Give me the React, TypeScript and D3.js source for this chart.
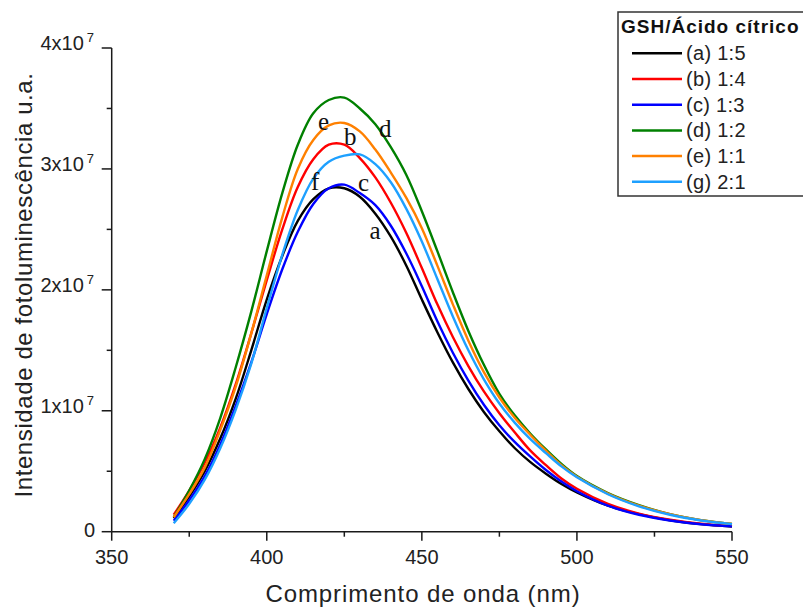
import React from "react";
import * as d3 from "d3";

// Wavelength grid (nm)
const wavelengths = [370, 375, 380, 385, 390, 395, 400, 405, 410, 415, 420, 425, 430, 435, 440, 445, 450, 455, 460, 465, 470, 475, 480, 485, 490, 495, 500, 510, 520, 530, 540, 550];

// Intensities in units of 1x10^7
const serieA = [0.11, 0.29, 0.5, 0.77, 1.1, 1.5, 1.92, 2.28, 2.57, 2.75, 2.84, 2.84, 2.77, 2.63, 2.44, 2.2, 1.92, 1.65, 1.4, 1.18, 0.99, 0.83, 0.69, 0.575, 0.48, 0.395, 0.325, 0.215, 0.145, 0.095, 0.063, 0.043];
const serieB = [0.14, 0.34, 0.57, 0.86, 1.22, 1.64, 2.08, 2.5, 2.85, 3.08, 3.2, 3.2, 3.09, 2.93, 2.72, 2.47, 2.18, 1.88, 1.61, 1.37, 1.16, 0.98, 0.82, 0.67, 0.55, 0.44, 0.355, 0.23, 0.15, 0.1, 0.066, 0.046];
const serieC = [0.09, 0.26, 0.46, 0.72, 1.04, 1.4, 1.8, 2.17, 2.48, 2.71, 2.84, 2.87, 2.8, 2.7, 2.53, 2.3, 2.03, 1.74, 1.48, 1.25, 1.05, 0.88, 0.74, 0.62, 0.51, 0.415, 0.335, 0.215, 0.14, 0.093, 0.062, 0.044];
const serieD = [0.12, 0.34, 0.6, 0.94, 1.36, 1.82, 2.32, 2.8, 3.2, 3.46, 3.57, 3.59, 3.5, 3.37, 3.18, 2.95, 2.65, 2.32, 1.98, 1.66, 1.38, 1.14, 0.96, 0.81, 0.68, 0.56, 0.46, 0.32, 0.22, 0.145, 0.096, 0.065];
const serieE = [0.12, 0.31, 0.53, 0.84, 1.2, 1.64, 2.12, 2.6, 3.0, 3.24, 3.36, 3.38, 3.31, 3.16, 2.97, 2.76, 2.51, 2.2, 1.88, 1.58, 1.32, 1.11, 0.94, 0.8, 0.67, 0.55, 0.455, 0.315, 0.215, 0.145, 0.095, 0.064];
const serieG = [0.07, 0.23, 0.43, 0.69, 1.01, 1.39, 1.85, 2.29, 2.66, 2.92, 3.06, 3.11, 3.12, 3.04, 2.89, 2.67, 2.4, 2.09, 1.78, 1.5, 1.26, 1.06, 0.9, 0.765, 0.65, 0.54, 0.45, 0.31, 0.21, 0.14, 0.093, 0.063];

const seriesValues = [serieA, serieB, serieC, serieD, serieE, serieG];
const seriesNames = ["(a) 1:5", "(b) 1:4", "(c) 1:3", "(d) 1:2", "(e) 1:1", "(g) 2:1"];
const seriesColors = ["#000000", "#ff0000", "#0000ff", "#008000", "#ff8000", "#1ea0ff"];
const legendTitle = "GSH/Ácido cítrico";

const xTicks = [350, 400, 450, 500, 550];
const xMinorTicks = [375, 425, 475, 525];
const yTicks = [0, 1, 2, 3, 4];
const yTickMantissa = ["0", "1x10", "2x10", "3x10", "4x10"];
const yMinorTicks = [0.5, 1.5, 2.5, 3.5];

// Curve letter annotations: letter, wavelength and intensity of the baseline
const curveLetters = ["e", "b", "d", "f", "c", "a"];
const letterX = [418.3, 426.9, 438.2, 415.6, 431.2, 434.9];
const letterY = [3.318, 3.199, 3.265, 2.826, 2.821, 2.421];

const sans = "'Liberation Sans', Arial, sans-serif";
const serif = "'Liberation Serif', 'Times New Roman', serif";

export default function App() {
  const x = d3.scaleLinear().domain([350, 550]).range([111.7, 732]);
  const y = d3.scaleLinear().domain([0, 4]).range([531.7, 48]);
  const line = d3
    .line<[number, number]>()
    .x((d) => x(d[0]))
    .y((d) => y(d[1]))
    .curve(d3.curveCatmullRom.alpha(0.5));

  const axisColor = "#1a1a1a";

  return (
    <svg
      width={803}
      height={608}
      style={{ position: "absolute", left: 0, top: 0, background: "#fff" }}
    >
      {/* curves */}
      {seriesValues.map((vals, i) => (
        <path
          key={i}
          d={line(wavelengths.map((w, j) => [w, vals[j]] as [number, number])) || ""}
          fill="none"
          stroke={seriesColors[i]}
          strokeWidth={2.4}
          strokeLinejoin="round"
        />
      ))}

      {/* axes */}
      <line x1={x(350)} x2={x(550)} y1={y(0)} y2={y(0)} stroke={axisColor} strokeWidth={1.5} />
      <line x1={x(350)} x2={x(350)} y1={y(0)} y2={y(4)} stroke={axisColor} strokeWidth={1.5} />
      {xTicks.map((t) => (
        <g key={"xt" + t}>
          <line x1={x(t)} x2={x(t)} y1={y(0)} y2={y(0) + 9} stroke={axisColor} strokeWidth={1.5} />
          <text x={x(t)} y={564} textAnchor="middle" fontFamily={sans} fontSize={20} fill="#222">
            {t}
          </text>
        </g>
      ))}
      {xMinorTicks.map((t) => (
        <line key={"xm" + t} x1={x(t)} x2={x(t)} y1={y(0)} y2={y(0) + 5} stroke={axisColor} strokeWidth={1.5} />
      ))}
      {yTicks.map((t, i) => (
        <g key={"yt" + t}>
          <line x1={x(350) - 10} x2={x(350)} y1={y(t)} y2={y(t)} stroke={axisColor} strokeWidth={1.5} />
          {t === 0 ? (
            <text x={95} y={y(t) + 5} textAnchor="end" fontFamily={sans} fontSize={20} fill="#222">
              {yTickMantissa[i]}
            </text>
          ) : (
            <text x={94} y={y(t) + 2} textAnchor="end" fontFamily={sans} fontSize={20} fill="#222">
              {yTickMantissa[i]}
              <tspan fontSize={13} dx={3} dy={-8}>
                7
              </tspan>
            </text>
          )}
        </g>
      ))}
      {yMinorTicks.map((t) => (
        <line key={"ym" + t} x1={x(350) - 5} x2={x(350)} y1={y(t)} y2={y(t)} stroke={axisColor} strokeWidth={1.5} />
      ))}

      {/* axis titles */}
      <text
        x={423}
        y={602}
        textAnchor="middle"
        fontFamily={sans}
        fontSize={24}
        letterSpacing={0.9}
        fill="#222"
      >
        Comprimento de onda (nm)
      </text>
      <text
        transform="translate(32,285) rotate(-90)"
        textAnchor="middle"
        fontFamily={sans}
        fontSize={24}
        letterSpacing={0.6}
        fill="#222"
      >
        Intensidade de fotoluminescência u.a.
      </text>

      {/* curve letters */}
      {curveLetters.map((c, i) => (
        <text
          key={"l" + c}
          x={x(letterX[i])}
          y={y(letterY[i])}
          textAnchor="middle"
          fontFamily={serif}
          fontSize={25}
          fill="#111"
        >
          {c}
        </text>
      ))}

      {/* legend */}
      <rect x={618} y={12} width={200} height={184} fill="#fff" stroke="#333" strokeWidth={1.5} />
      <text x={621} y={33} fontFamily={sans} fontWeight="bold" fontSize={19} letterSpacing={1} fill="#111">
        {legendTitle}
      </text>
      {seriesNames.map((n, i) => {
        const ly = 53.3 + i * 25.7;
        return (
          <g key={"lg" + i}>
            <line x1={632} x2={682} y1={ly} y2={ly} stroke={seriesColors[i]} strokeWidth={2.5} />
            <text x={686} y={ly + 7} fontFamily={sans} fontSize={20} letterSpacing={0.3} fill="#222">
              {n}
            </text>
          </g>
        );
      })}
    </svg>
  );
}
